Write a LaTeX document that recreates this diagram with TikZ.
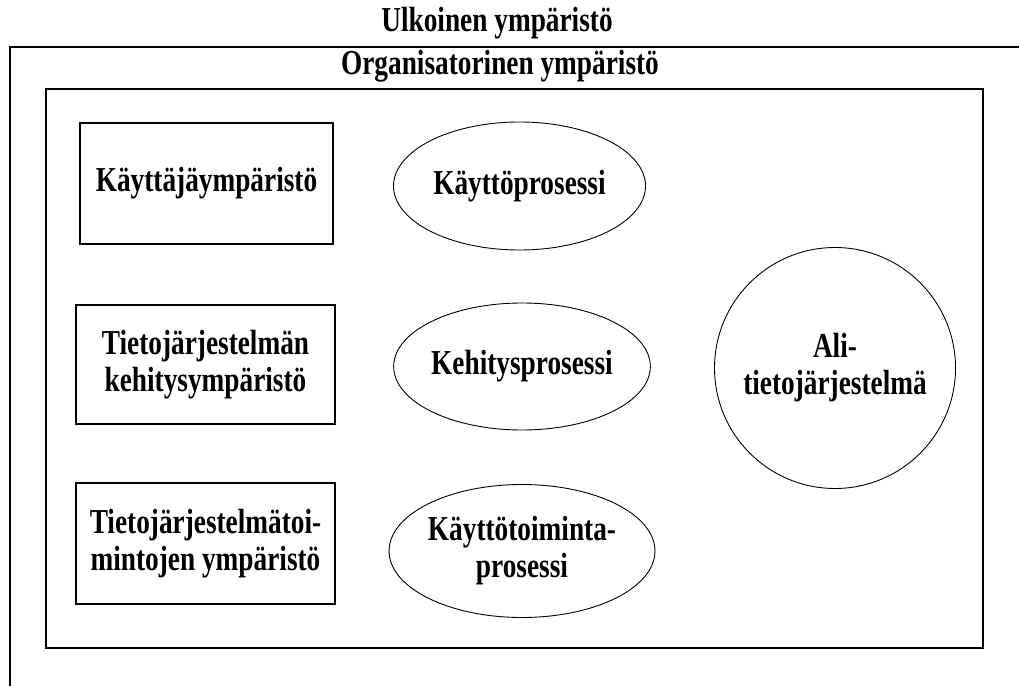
\documentclass[tikz,border=0pt]{standalone}
\usepackage{fontspec}
\setmainfont{Liberation Serif}[FakeStretch=0.78]
\usepackage{tikz}
\usetikzlibrary{shapes.geometric, calc}

\tikzset{
    envbox/.style={draw, line width=1.3pt, minimum width=#1, minimum height=121pt,
        align=center, inner sep=0pt},
    procell/.style={draw, ellipse, line width=0.9pt, minimum width=252pt,
        minimum height=#1, align=center, inner sep=0pt},
    sysball/.style={draw, circle, line width=0.9pt, minimum size=241pt,
        align=center, inner sep=0pt}
}

\begin{document}
\begin{tikzpicture}[x=1pt, y=1pt, font=\fontsize{35}{37}\selectfont\bfseries]

    % Fix the page size
    \useasboundingbox (0,0) rectangle (1019,686);

    % Draw the outer environment (open to the right and bottom)
    \draw[line width=1.3pt] (1019,639) -| (10,0);
    \node[anchor=base] (ulko) at (497,654) {Ulkoinen ympäristö};

    % Draw the organisational environment
    \draw[line width=1.3pt] (46,38) rectangle (983,597);
    \node[anchor=base] (org) at (500,611) {Organisatorinen ympäristö};

    % Environments on the left
    \node[envbox=253pt] (kaytto) at (206.5,502.5) {Käyttäjäympäristö};
    \node[envbox=259pt, minimum height=119pt] (kehitys) at (205.5,321.5)
        {Tietojärjestelmän\\kehitysympäristö};
    \node[envbox=259pt] (toiminta) at (205.5,142.5)
        {Tietojärjestelmätoi-\\mintojen ympäristö};

    % Processes in the middle
    \node[procell=128pt] (kprosessi) at (519.5,500) {Käyttöprosessi};
    \node[procell=127pt] (kehprosessi) at (522,319.5) {Kehitysprosessi};
    \node[procell=133pt] (ktprosessi) at (522,135) {Käyttötoiminta-\\prosessi};

    % Sub-system on the right
    \node[sysball] (ali) at (835,318) {Ali-\\tietojärjestelmä};

\end{tikzpicture}
\end{document}
